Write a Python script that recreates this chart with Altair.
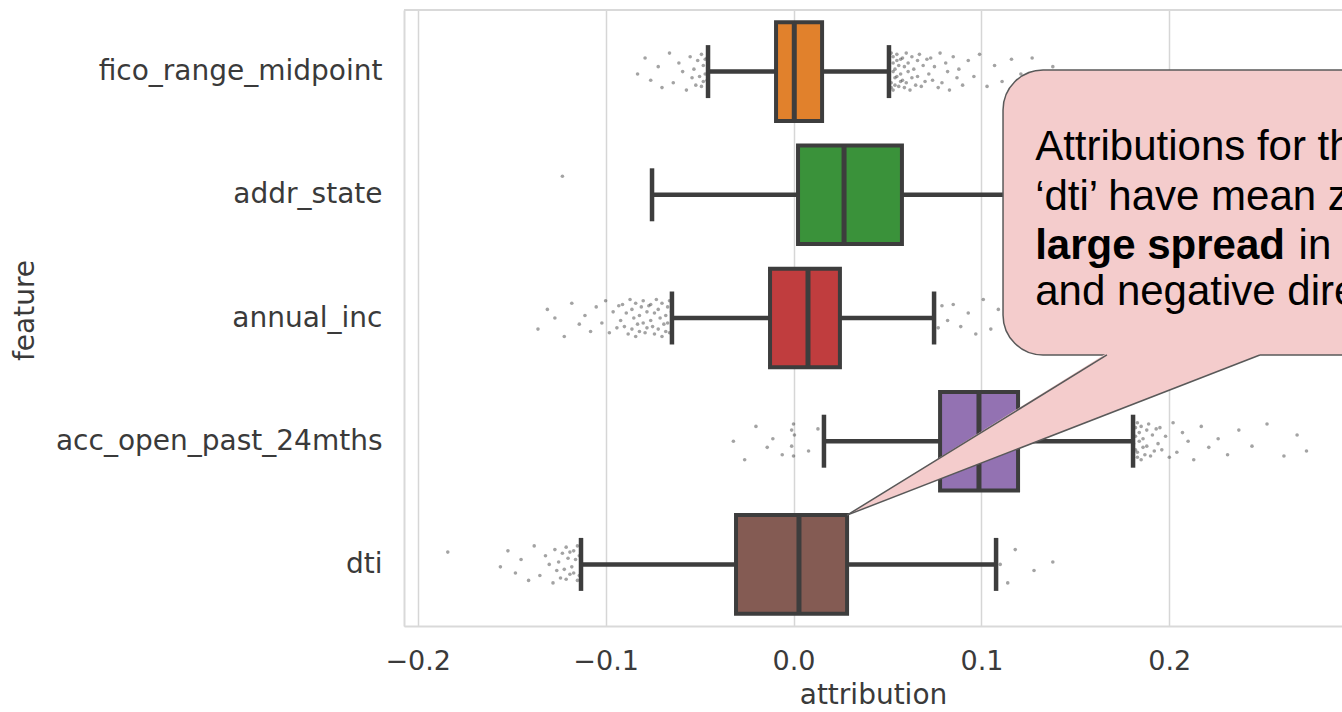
import altair as alt
import pandas as pd

# ---------------- data ----------------
FEATURES = ["fico_range_midpoint", "addr_state", "annual_inc", "acc_open_past_24mths", "dti"]
COLORS = ["#e1812c", "#3a923a", "#c03d3e", "#9372b2", "#845b53"]
Q1 = [-0.0093, 0.0024, -0.0125, 0.0780, -0.0306]
MEDIAN = [0.0004, 0.0269, 0.0077, 0.0987, 0.0029]
Q3 = [0.0152, 0.0577, 0.0247, 0.1195, 0.0285]
WHISK_LO = [-0.0455, -0.0753, -0.0647, 0.0162, -0.1131]
WHISK_HI = [0.0508, 0.1350, 0.0748, 0.1807, 0.1078]

FICO_OUT = [-0.083, -0.079, -0.076, -0.072, -0.070, -0.066, -0.064, -0.061, -0.059, -0.057,
            -0.055, -0.054, -0.053, -0.052, -0.051, -0.050, -0.049, -0.049, -0.048, -0.048,
            -0.047, -0.047, -0.046, -0.046,
            0.051, 0.052, 0.052, 0.052, 0.053, 0.053, 0.053, 0.053, 0.054, 0.054, 0.054, 0.055,
            0.055, 0.055, 0.056, 0.056, 0.057, 0.057, 0.057, 0.058, 0.058, 0.059, 0.059, 0.060,
            0.060, 0.061, 0.061, 0.062, 0.063, 0.063, 0.064, 0.065, 0.066, 0.066, 0.067, 0.068,
            0.069, 0.070, 0.071, 0.072, 0.073, 0.074, 0.075, 0.077, 0.078, 0.079, 0.081, 0.082,
            0.083, 0.085, 0.087, 0.088, 0.090, 0.093, 0.096, 0.099,
            0.103, 0.107, 0.111, 0.116, 0.121, 0.127, 0.133, 0.138, 0.143]
ADDR_OUT = [-0.123]
ANNUAL_OUT = [-0.136, -0.131, -0.127, -0.122, -0.118, -0.114, -0.111, -0.108, -0.105, -0.102,
              -0.100, -0.098, -0.096, -0.094, -0.093, -0.092, -0.091, -0.090, -0.089, -0.088,
              -0.087, -0.086, -0.086, -0.085, -0.084, -0.084, -0.083, -0.082, -0.082, -0.081,
              -0.080, -0.080, -0.079, -0.078, -0.078, -0.077, -0.076, -0.076, -0.075, -0.074,
              -0.074, -0.073, -0.072, -0.072, -0.071, -0.070, -0.070, -0.069, -0.068, -0.068,
              -0.067, -0.067, -0.066, -0.066, -0.065,
              0.077, 0.079, 0.082, 0.085, 0.089, 0.093, 0.097, 0.101, 0.105, 0.109]
ACC_OUT = [-0.032, -0.026, -0.020, -0.014, -0.011, -0.006, -0.001, -0.001, 0.000, 0.000,
           0.0005, 0.008, 0.013,
           0.181, 0.182, 0.182, 0.182, 0.183, 0.183, 0.183, 0.184, 0.184, 0.185, 0.185, 0.186,
           0.186, 0.187, 0.188, 0.188, 0.189, 0.190, 0.191, 0.192, 0.193, 0.194, 0.195, 0.196,
           0.198, 0.200, 0.202, 0.204, 0.207, 0.210, 0.213,
           0.217, 0.221, 0.226, 0.231, 0.237, 0.244, 0.252, 0.261, 0.268, 0.273]
DTI_OUT = [-0.184, -0.156, -0.152, -0.148, -0.145, -0.141, -0.138, -0.135, -0.132, -0.130,
           -0.128, -0.127, -0.126, -0.125, -0.124, -0.123, -0.122, -0.121, -0.121, -0.120,
           -0.119, -0.119, -0.118, -0.117, -0.117, -0.116, -0.115, -0.115, -0.114, -0.114,
           0.110, 0.114, 0.118, 0.128, 0.138]
OUTLIERS = [FICO_OUT, ADDR_OUT, ANNUAL_OUT, ACC_OUT, DTI_OUT]
JITTER = [0.02, -0.11, 0.07, -0.04, 0.13, -0.15, 0.09, -0.07, 0.0, 0.15, -0.12,
          0.05, -0.02, 0.11, -0.09, 0.04, -0.14, 0.12, -0.05, 0.08, -0.10]

X_TICKS = [-0.2, -0.1, 0.0, 0.1, 0.2]
X_DOMAIN = [-0.2073, 0.2919]

CALLOUT_LINES = ["Attributions for the", "\u2018dti\u2019 have mean zero", None, "and negative directions"]
CALLOUT_BOLD = "large spread"
CALLOUT_AFTER_BOLD = "in both positive"

# ---------------- tables ----------------
boxes = pd.DataFrame({
    "feature": FEATURES,
    "pos": [i + 0.5 for i in range(len(FEATURES))],
    "q1": Q1, "med": MEDIAN, "q3": Q3, "lo": WHISK_LO, "hi": WHISK_HI,
})
boxes["top"] = boxes["pos"] - 0.4
boxes["bot"] = boxes["pos"] + 0.4
boxes["ctop"] = boxes["pos"] - 0.215
boxes["cbot"] = boxes["pos"] + 0.215

rows = []
k = 0
for i, vals in enumerate(OUTLIERS):
    for v in vals:
        rows.append({"feature": FEATURES[i], "v": v, "p": i + 0.5 + JITTER[k % len(JITTER)]})
        k += 1
pts = pd.DataFrame(rows)

xs = alt.Scale(domain=X_DOMAIN, nice=False, zero=False)
ys = alt.Scale(domain=[0, 5], reverse=True, nice=False, zero=False)
col = alt.Color("feature:N", scale=alt.Scale(domain=FEATURES, range=COLORS), legend=None)

label_expr = "[" + ",".join("'" + f + "'" for f in FEATURES) + "][floor(datum.value)]"

AX = alt.Axis(
    values=X_TICKS, format=".1f", title="attribution", grid=True,
    gridColor="#d6d6d6", gridWidth=1.5, ticks=False, tickSize=0,
    domain=True, domainColor="#d9d9d9", domainWidth=2,
    labelFont="DejaVu Sans", labelFontSize=27, labelColor="#3a3a3a",
    labelBaseline="alphabetic", labelPadding=43,
    titleFont="DejaVu Sans", titleFontSize=28, titleColor="#3a3a3a",
    titleFontWeight="normal", titleBaseline="alphabetic", titleY=77)
AY = alt.Axis(
    values=[i + 0.5 for i in range(len(FEATURES))], labelExpr=label_expr,
    grid=False, ticks=False, tickSize=0, domain=True, domainColor="#d9d9d9",
    domainWidth=2, labelFont="DejaVu Sans", labelFontSize=28, labelColor="#3a3a3a",
    labelPadding=22, labelLimit=0, title="feature", titleFont="DejaVu Sans",
    titleFontSize=28, titleColor="#3a3a3a", titleFontWeight="normal", titleAngle=270,
    titleX=-379, titleY=300, titleAlign="center", titleBaseline="middle")


def X(f):
    return alt.X(f, scale=xs, axis=AX, title="attribution")


def Y(f):
    return alt.Y(f, scale=ys, axis=AY, title="feature")


EDGE = "#3d3d3d"

points = alt.Chart(pts).mark_circle(size=13, color="#333333", opacity=0.45).encode(
    x=X("v:Q"), y=Y("p:Q"))

top_border = alt.Chart(boxes.head(1)).mark_rule(color="#d9d9d9", strokeWidth=2).encode(
    x=alt.X(datum=X_DOMAIN[0], scale=xs, axis=AX, title="attribution"),
    x2=alt.X2(datum=X_DOMAIN[1]),
    y=alt.Y(datum=0, scale=ys, axis=AY, title="feature"),
)

base = alt.Chart(boxes)
whisk_l = base.mark_rule(color=EDGE, strokeWidth=4.5).encode(
    x=X("lo:Q"), x2="q1:Q", y=Y("pos:Q"))
whisk_r = base.mark_rule(color=EDGE, strokeWidth=4.5).encode(
    x=X("q3:Q"), x2="hi:Q", y=Y("pos:Q"))
cap_l = base.mark_rule(color=EDGE, strokeWidth=4.5).encode(
    x=X("lo:Q"), y=Y("ctop:Q"), y2="cbot:Q")
cap_r = base.mark_rule(color=EDGE, strokeWidth=4.5).encode(
    x=X("hi:Q"), y=Y("ctop:Q"), y2="cbot:Q")
box = base.mark_rect(stroke=EDGE, strokeWidth=4).encode(
    x=X("q1:Q"), x2="q3:Q", y=Y("top:Q"), y2="bot:Q", fill=col)
med = base.mark_rule(color=EDGE, strokeWidth=5).encode(
    x=X("med:Q"), y=Y("top:Q"), y2="bot:Q")

# ---------------- callout ----------------
PINK = "#f4cccc"
OUT = "#595959"
bubble_df = pd.DataFrame({"x": [0.1115], "x2": [0.36], "y": [0.487], "y2": [2.800]})
bubble = alt.Chart(bubble_df).mark_rect(cornerRadius=40, fill=PINK, stroke=OUT,
                                        strokeWidth=1.5, clip=True).encode(
    x=X("x:Q"), x2="x2:Q", y=Y("y:Q"), y2="y2:Q")

tip_x, tip_y = Q3[4], 4.5 - 0.4
tail_df = pd.DataFrame({"x": [tip_x, 0.1668, 0.2482],
                        "t": [tip_y, 2.785, 2.785],
                        "b": [tip_y, 3.2817, 2.800]})
tail = alt.Chart(tail_df).mark_area(fill=PINK, clip=True).encode(
    x=X("x:Q"), y=Y("t:Q"), y2="b:Q")
edge_df = pd.DataFrame({"seg": ["a", "a", "b", "b"],
                        "x": [tip_x, 0.1668, tip_x, 0.2482],
                        "y": [tip_y, 2.800, tip_y, 2.800]})
edges = alt.Chart(edge_df).mark_line(color=OUT, strokeWidth=1.5, clip=True).encode(
    x=X("x:Q"), y=Y("y:Q"), detail="seg:N")

TXT_X = 0.1286
BASELINES = [1.215, 1.625, 2.020, 2.392]
reg_rows = [{"x": TXT_X, "y": BASELINES[i], "t": s} for i, s in enumerate(CALLOUT_LINES) if s]
reg_rows.append({"x": 0.2688, "y": BASELINES[2], "t": CALLOUT_AFTER_BOLD})
txt = alt.Chart(pd.DataFrame(reg_rows)).mark_text(
    align="left", baseline="alphabetic", font="Liberation Sans", fontSize=42,
    color="#000000", clip=True).encode(
    x=X("x:Q"), y=Y("y:Q"), text="t:N")
txt_b = alt.Chart(pd.DataFrame([{"x": TXT_X, "y": BASELINES[2], "t": CALLOUT_BOLD}])).mark_text(
    align="left", baseline="alphabetic", font="Liberation Sans", fontSize=42,
    fontWeight="bold", color="#000000", clip=True).encode(
    x=X("x:Q"), y=Y("y:Q"), text="t:N")

chart = alt.layer(
    points, top_border, whisk_l, whisk_r, cap_l, cap_r, box, med,
    bubble, tail, edges, txt, txt_b
).properties(
    width=938, height=616,
    autosize=alt.AutoSizeParams(type="none"),
    padding={"left": 404, "top": 10, "right": 0, "bottom": 86},
).configure_view(stroke=None).configure(background="white")

chart.save("out.html", embed_options={"renderer": "svg", "actions": False})
